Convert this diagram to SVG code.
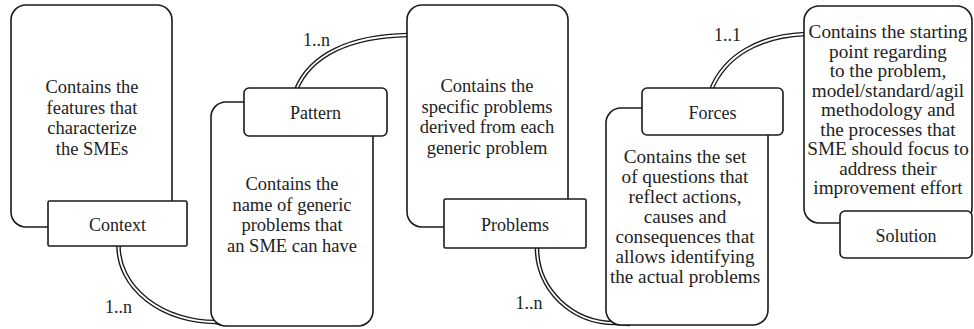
<svg xmlns="http://www.w3.org/2000/svg" width="974" height="329" viewBox="0 0 974 329" font-family="'Liberation Serif', 'Times New Roman', 'DejaVu Serif', serif">
<style>
.box{fill:#fff;stroke:#1a1a1a;stroke-width:1.6}
.lbl{fill:#fff;stroke:#1a1a1a;stroke-width:1.6}
text{fill:#222;text-anchor:middle}
.t{font-size:18.5px}
.tb{font-size:19.2px}
.lt{font-size:18px}
.c1{fill:none;stroke:#1a1a1a;stroke-width:4.6}
.c2{fill:none;stroke:#fff;stroke-width:1.8}
</style>
<rect width="974" height="329" fill="#fff"/>
<g id="connectors">
  <path class="c1" d="M118.5,246 A97,76 0 0 0 215.5,322 L224,324"/>
  <path class="c2" d="M118.5,246 A97,76 0 0 0 215.5,322 L224,324"/>
  <path class="c1" d="M296,90 C310,55 350,36 408,35"/>
  <path class="c2" d="M296,90 C310,55 350,36 408,35"/>
  <path class="c1" d="M537,248 A78,75 0 0 0 615,323 L630,324"/>
  <path class="c2" d="M537,248 A78,75 0 0 0 615,323 L630,324"/>
  <path class="c1" d="M711,90 C725,55 760,36 805,34"/>
  <path class="c2" d="M711,90 C725,55 760,36 805,34"/>
  <text class="lt" x="118.5" y="313">1..n</text>
  <text class="lt" x="316.5" y="46">1..n</text>
  <text class="lt" x="529" y="309">1..n</text>
  <text class="lt" x="727.5" y="41">1..1</text>
</g>
<g id="context">
  <rect class="box" x="11" y="5" width="161" height="222" rx="15"/>
  <text class="t" x="92" y="93">Contains the</text>
  <text class="t" x="92" y="113.5">features that</text>
  <text class="t" x="92" y="134">characterize</text>
  <text class="t" x="92" y="154.5">the SMEs</text>
  <rect class="lbl" x="48" y="201" width="139" height="45" rx="1.5"/>
  <text class="lt" x="117.5" y="231">Context</text>
</g>
<g id="pattern">
  <rect class="box" x="211" y="102" width="162" height="224" rx="15"/>
  <text class="t" x="292" y="190">Contains the</text>
  <text class="t" x="292" y="210.5">name of generic</text>
  <text class="t" x="292" y="231">problems that</text>
  <text class="t" x="292" y="251.5">an SME can have</text>
  <rect class="lbl" x="244" y="88" width="143" height="48" rx="5"/>
  <text class="lt" x="315.5" y="119">Pattern</text>
</g>
<g id="problems">
  <rect class="box" x="407" y="5" width="161" height="222" rx="15"/>
  <text class="t" x="487" y="92">Contains the</text>
  <text class="t" x="487" y="112.5">specific problems</text>
  <text class="t" x="487" y="133">derived from each</text>
  <text class="t" x="487" y="153.5">generic problem</text>
  <rect class="lbl" x="444" y="199" width="142" height="49" rx="1.5"/>
  <text class="lt" x="515" y="231">Problems</text>
</g>
<g id="forces">
  <rect class="box" x="606" y="108" width="162" height="217" rx="15"/>
  <text class="tb" x="685" y="163">Contains the set</text>
  <text class="tb" x="685" y="183">of questions that</text>
  <text class="tb" x="685" y="203">reflect actions,</text>
  <text class="tb" x="685" y="223">causes and</text>
  <text class="tb" x="685" y="243">consequences that</text>
  <text class="tb" x="685" y="263">allows identifying</text>
  <text class="tb" x="685" y="283">the actual problems</text>
  <rect class="lbl" x="642" y="88" width="141" height="47" rx="5"/>
  <text class="lt" x="712.5" y="119">Forces</text>
</g>
<g id="solution">
  <rect class="box" x="804" y="6" width="168" height="217" rx="15"/>
  <text class="tb" x="888" y="38">Contains the starting</text>
  <text class="tb" x="888" y="57.5">point regarding</text>
  <text class="tb" x="888" y="77">to the problem,</text>
  <text class="tb" x="888" y="96.5">model/standard/agil</text>
  <text class="tb" x="888" y="116">methodology and</text>
  <text class="tb" x="888" y="135.5">the processes that</text>
  <text class="tb" x="888" y="155">SME should focus to</text>
  <text class="tb" x="888" y="174.5">address their</text>
  <text class="tb" x="888" y="194">improvement effort</text>
  <rect class="lbl" x="840" y="211" width="132" height="47" rx="5"/>
  <text class="lt" x="906" y="242">Solution</text>
</g>
</svg>
